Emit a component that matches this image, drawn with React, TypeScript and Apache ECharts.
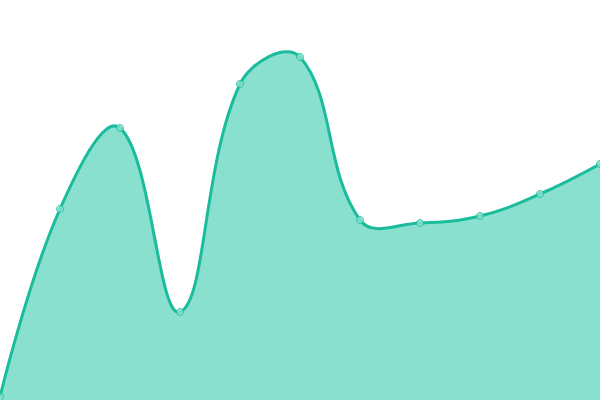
import { useEffect, useRef } from 'react';
import * as echarts from 'echarts';

const categories = ['1', '2', '3', '4', '5', '6', '7', '8', '9', '10', '11'];
const values = [3, 191, 272, 88, 316, 343, 180, 177, 184, 206, 236];

const lineColor = '#1abc9c';
const areaColor = '#89e0cf';
const smooth = 0.4;

// unclamped smooth curve (control points may overshoot, like the reference)
function buildCurve(pts: number[][]): string {
  const n = pts.length;
  const outCp: number[][] = [];
  const inCp: number[][] = [];
  for (let i = 0; i < n; i++) {
    const [x, y] = pts[i];
    const prev = pts[Math.max(i - 1, 0)];
    const next = pts[Math.min(i + 1, n - 1)];
    if (i === 0 || i === n - 1) {
      outCp[i] = [x, y];
      inCp[i] = [x, y];
      continue;
    }
    const vx = next[0] - prev[0];
    const vy = next[1] - prev[1];
    const lenPrev = Math.hypot(x - prev[0], y - prev[1]);
    const lenNext = Math.hypot(next[0] - x, next[1] - y);
    const ratio = lenNext / (lenNext + lenPrev);
    inCp[i] = [x - vx * smooth * (1 - ratio), y - vy * smooth * (1 - ratio)];
    outCp[i] = [x + vx * smooth * ratio, y + vy * smooth * ratio];
  }
  let d = `M${pts[0][0]} ${pts[0][1]}`;
  for (let i = 1; i < n; i++) {
    const a = outCp[i - 1];
    const b = inCp[i];
    d += ` C${a[0]} ${a[1]} ${b[0]} ${b[1]} ${pts[i][0]} ${pts[i][1]}`;
  }
  return d;
}

export default function App() {
  const chartRef = useRef<HTMLDivElement>(null);

  useEffect(() => {
    if (!chartRef.current) return;
    const chart = echarts.init(chartRef.current, undefined, { renderer: 'svg' });

    const option: echarts.EChartsOption = {
      animation: false,
      grid: { left: 0, right: 0, top: 0, bottom: 0 },
      xAxis: {
        type: 'category',
        data: categories,
        boundaryGap: false,
        show: false
      },
      yAxis: {
        type: 'value',
        min: 0,
        max: 400,
        show: false
      },
      series: [
        {
          type: 'custom',
          data: values.map((v, i) => [i, v]),
          renderItem: (params: any, api: any) => {
            if (params.dataIndex !== 0) return null;
            const pts = values.map((v, i) => api.coord([i, v]));
            const line = buildCurve(pts);
            const base0 = api.coord([0, 0]);
            const base1 = api.coord([values.length - 1, 0]);
            const area = `${line} L${base1[0]} ${base1[1]} L${base0[0]} ${base0[1]} Z`;
            return {
              type: 'group',
              children: [
                {
                  type: 'path',
                  shape: { pathData: area },
                  style: { fill: areaColor, stroke: 'none' }
                },
                {
                  type: 'path',
                  shape: { pathData: line },
                  style: { fill: 'none', stroke: lineColor, lineWidth: 3 }
                }
              ]
            };
          }
        },
        {
          type: 'scatter',
          data: values,
          symbol: 'circle',
          symbolSize: 7,
          z: 5,
          itemStyle: { color: areaColor, borderColor: lineColor, borderWidth: 1 }
        }
      ]
    };

    chart.setOption(option);
    return () => chart.dispose();
  }, []);

  return (
    <div
      ref={chartRef}
      style={{ position: 'absolute', left: 0, top: 0, width: 600, height: 400 }}
    />
  );
}
